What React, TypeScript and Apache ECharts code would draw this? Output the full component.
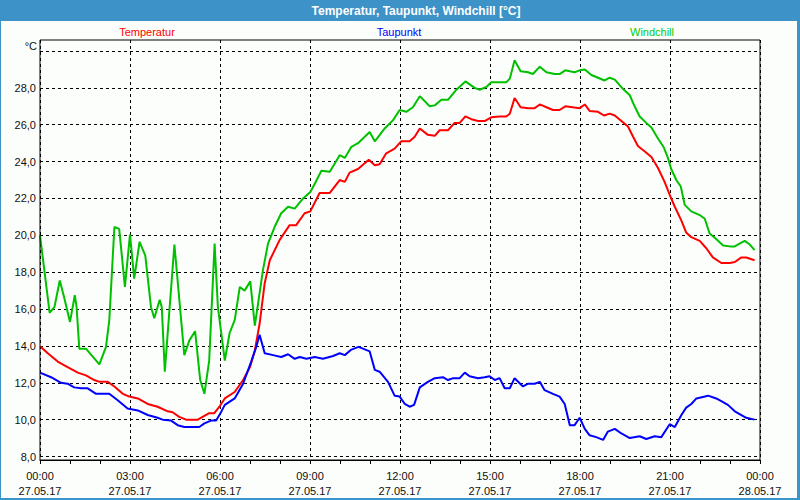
import React, { useEffect, useRef } from "react";
import * as echarts from "echarts";

const timeLabels = ["00:00", "03:00", "06:00", "09:00", "12:00", "15:00", "18:00", "21:00", "00:00"];
const dateLabels = ["27.05.17", "27.05.17", "27.05.17", "27.05.17", "27.05.17", "27.05.17", "27.05.17", "27.05.17", "28.05.17"];

const tempHours = [0, 0.26, 0.59, 0.92, 1.26, 1.53, 1.81, 1.98, 2.26, 2.48, 2.76, 2.98, 3.26, 3.59, 3.92, 4.26, 4.42, 4.64, 4.87, 5.26, 5.42, 5.64, 5.81, 6.0, 6.16, 6.49, 6.77, 7.0, 7.16, 7.32, 7.49, 7.66, 7.99, 8.32, 8.54, 8.82, 9.01, 9.32, 9.66, 9.99, 10.16, 10.32, 10.6, 10.96, 11.16, 11.32, 11.54, 11.82, 12.04, 12.32, 12.49, 12.66, 12.93, 13.16, 13.32, 13.6, 13.82, 13.99, 14.18, 14.38, 14.6, 14.82, 15.04, 15.32, 15.54, 15.66, 15.82, 16.02, 16.27, 16.49, 16.66, 16.88, 17.1, 17.32, 17.51, 17.99, 18.16, 18.32, 18.6, 18.8, 18.99, 19.16, 19.38, 19.6, 19.77, 19.93, 20.16, 20.38, 20.6, 20.82, 20.99, 21.16, 21.38, 21.54, 21.71, 21.99, 22.21, 22.43, 22.71, 22.99, 23.16, 23.38, 23.54, 23.82];
const tempValues = [13.98, 13.6, 13.15, 12.85, 12.55, 12.4, 12.15, 12.05, 12.05, 11.8, 11.4, 11.25, 11.15, 10.85, 10.7, 10.45, 10.4, 10.15, 10.0, 10.0, 10.15, 10.35, 10.35, 10.75, 11.15, 11.5, 12.15, 12.85, 13.75, 15.2, 17.4, 18.65, 19.75, 20.55, 20.55, 21.2, 21.3, 22.3, 22.3, 23.0, 22.9, 23.4, 23.6, 24.1, 23.8, 23.85, 24.45, 24.7, 25.1, 25.1, 25.35, 25.8, 25.45, 25.4, 25.7, 25.7, 26.1, 26.1, 26.45, 26.3, 26.2, 26.2, 26.4, 26.45, 26.45, 26.6, 27.45, 26.95, 26.9, 26.9, 27.1, 26.95, 26.8, 26.8, 27.0, 26.9, 27.1, 26.75, 26.7, 26.5, 26.6, 26.5, 26.2, 25.9, 25.35, 24.85, 24.55, 24.25, 23.65, 22.9, 22.2, 21.55, 20.8, 20.15, 19.9, 19.7, 19.3, 18.8, 18.5, 18.5, 18.55, 18.8, 18.8, 18.65];

const dewHours = [0, 0.37, 0.7, 0.92, 1.14, 1.37, 1.59, 1.87, 2.31, 2.59, 2.92, 3.26, 3.59, 3.92, 4.09, 4.37, 4.59, 4.81, 5.31, 5.48, 5.7, 5.87, 6.0, 6.16, 6.49, 6.77, 7.04, 7.21, 7.32, 7.49, 7.77, 8.04, 8.27, 8.49, 8.66, 8.88, 9.16, 9.43, 9.77, 9.99, 10.16, 10.38, 10.62, 10.99, 11.16, 11.32, 11.6, 11.82, 11.99, 12.16, 12.32, 12.47, 12.66, 12.93, 13.16, 13.43, 13.6, 13.77, 13.99, 14.16, 14.32, 14.6, 14.82, 14.99, 15.16, 15.32, 15.49, 15.66, 15.82, 16.1, 16.27, 16.49, 16.66, 16.82, 17.1, 17.32, 17.49, 17.66, 17.82, 17.99, 18.16, 18.32, 18.54, 18.77, 18.93, 19.16, 19.38, 19.66, 19.99, 20.21, 20.49, 20.71, 20.99, 21.16, 21.38, 21.54, 21.71, 21.88, 22.27, 22.54, 22.71, 22.93, 23.16, 23.38, 23.54, 23.82];
const dewValues = [12.55, 12.3, 12.0, 11.95, 11.75, 11.7, 11.7, 11.4, 11.4, 11.05, 10.6, 10.5, 10.25, 10.1, 10.0, 9.95, 9.7, 9.6, 9.6, 9.8, 9.95, 9.95, 10.3, 10.8, 11.15, 11.95, 13.15, 13.95, 14.6, 13.6, 13.5, 13.4, 13.55, 13.3, 13.4, 13.3, 13.4, 13.3, 13.45, 13.6, 13.5, 13.8, 13.95, 13.7, 12.7, 12.6, 12.05, 11.3, 11.25, 10.85, 10.7, 10.8, 11.75, 12.05, 12.25, 12.3, 12.15, 12.25, 12.25, 12.55, 12.35, 12.25, 12.3, 12.35, 12.15, 12.25, 11.7, 11.7, 12.25, 11.8, 11.95, 11.95, 12.05, 11.6, 11.4, 11.25, 10.85, 9.7, 9.7, 10.1, 9.5, 9.15, 9.05, 8.9, 9.35, 9.5, 9.25, 9.0, 9.1, 8.95, 9.1, 9.05, 9.75, 9.6, 10.25, 10.65, 10.85, 11.15, 11.3, 11.15, 11.0, 10.8, 10.45, 10.25, 10.1, 10.0];

const chillHours = [0, 0.32, 0.48, 0.66, 0.81, 1.0, 1.16, 1.22, 1.31, 1.53, 1.98, 2.2, 2.31, 2.48, 2.64, 2.83, 3.0, 3.14, 3.32, 3.51, 3.7, 3.81, 3.99, 4.06, 4.16, 4.48, 4.81, 4.98, 5.17, 5.34, 5.48, 5.64, 5.82, 5.93, 6.16, 6.32, 6.49, 6.66, 6.82, 7.01, 7.16, 7.27, 7.43, 7.6, 7.82, 8.04, 8.27, 8.49, 8.77, 9.01, 9.16, 9.38, 9.66, 9.99, 10.16, 10.38, 10.6, 10.99, 11.16, 11.49, 11.77, 11.99, 12.21, 12.43, 12.66, 12.99, 13.16, 13.38, 13.6, 13.88, 14.18, 14.49, 14.66, 14.88, 15.04, 15.54, 15.66, 15.82, 16.02, 16.27, 16.43, 16.66, 16.88, 17.16, 17.32, 17.51, 17.66, 17.82, 17.99, 18.16, 18.38, 18.6, 18.82, 18.99, 19.16, 19.43, 19.66, 19.82, 19.99, 20.21, 20.38, 20.6, 20.8, 20.93, 21.04, 21.21, 21.36, 21.49, 21.71, 21.99, 22.16, 22.32, 22.54, 22.77, 22.99, 23.16, 23.32, 23.49, 23.66, 23.82];
const chillValues = [20.0, 15.8, 16.1, 17.55, 16.6, 15.3, 16.75, 16.1, 13.85, 13.85, 13.0, 13.95, 15.4, 20.45, 20.35, 17.2, 20.05, 17.65, 19.65, 18.9, 16.1, 15.5, 16.5, 16.1, 12.6, 19.5, 13.5, 14.3, 14.8, 12.15, 11.4, 13.2, 19.55, 16.1, 13.2, 14.7, 15.4, 17.2, 17.0, 17.5, 15.1, 16.3, 18.1, 19.55, 20.45, 21.2, 21.55, 21.45, 22.0, 22.35, 22.8, 23.5, 23.45, 24.35, 24.2, 24.8, 25.0, 25.6, 25.1, 25.8, 26.25, 26.8, 26.7, 26.95, 27.55, 27.0, 27.05, 27.35, 27.35, 27.9, 28.35, 28.0, 27.9, 28.05, 28.3, 28.3, 28.5, 29.5, 28.9, 28.85, 28.75, 29.15, 28.85, 28.75, 28.75, 28.95, 28.9, 28.85, 28.95, 29.0, 28.7, 28.55, 28.4, 28.55, 28.45, 27.95, 27.6, 27.0, 26.45, 26.1, 25.85, 25.25, 24.75, 24.2, 23.6, 23.0, 22.65, 21.65, 21.3, 21.1, 20.9, 20.1, 19.8, 19.45, 19.4, 19.4, 19.55, 19.7, 19.5, 19.2];

const zip = (xs: number[], ys: number[]) => xs.map((x, i) => [x, ys[i]]);

const FONT = "Liberation Sans";
const FRAME_BLUE = "#3d92c7";

export default function App() {
  const ref = useRef<HTMLDivElement>(null);
  useEffect(() => {
    if (!ref.current) return;
    const chart = echarts.init(ref.current, undefined, { renderer: "svg" });
    const dashed = { color: "#000", width: 1, type: [3, 3] as any };
    chart.setOption({
      animation: false,
      backgroundColor: "#fcfefc",
      textStyle: { fontFamily: FONT },
      grid: [
        { left: 40, right: 40, top: 40, bottom: 40 },
        { left: 40, right: 40, top: 51, bottom: 43.5 },
      ],
      xAxis: [
        {
          type: "value", gridIndex: 0, min: 0, max: 24, interval: 3,
          axisLine: { show: true, lineStyle: { color: "#000", width: 1 } },
          axisTick: { show: true, length: 4, lineStyle: { color: "#000" } },
          minorTick: { show: true, splitNumber: 3, length: 4, lineStyle: { color: "#000" } },
          splitLine: { show: true, lineStyle: dashed },
          axisLabel: {
            margin: 8, color: "#101010", fontSize: 11, fontFamily: FONT, lineHeight: 15,
            formatter: (v: number) => {
              const i = Math.round(v / 3);
              return timeLabels[i] + "\n" + dateLabels[i];
            },
          },
        },
        { type: "value", gridIndex: 1, min: 0, max: 24, show: false },
      ],
      yAxis: [
        { type: "value", gridIndex: 0, min: 0, max: 1, show: false },
        {
          type: "value", gridIndex: 1, min: 8, max: 30, interval: 2,
          axisLine: { show: false }, axisTick: { show: false },
          splitLine: { show: true, lineStyle: dashed },
          axisLabel: {
            margin: 4, color: "#101010", fontSize: 11, fontFamily: FONT,
            formatter: (v: number) => (v >= 30 ? "" : v.toFixed(1).replace(".", ",")),
          },
        },
      ],
      series: [
        { name: "Temperatur", type: "line", xAxisIndex: 1, yAxisIndex: 1, data: zip(tempHours, tempValues), showSymbol: false, lineStyle: { color: "#ff0000", width: 2 }, itemStyle: { color: "#ff0000" }, z: 3 },
        { name: "Taupunkt", type: "line", xAxisIndex: 1, yAxisIndex: 1, data: zip(dewHours, dewValues), showSymbol: false, lineStyle: { color: "#0000ff", width: 2 }, itemStyle: { color: "#0000ff" }, z: 3 },
        { name: "Windchill", type: "line", xAxisIndex: 1, yAxisIndex: 1, data: zip(chillHours, chillValues), showSymbol: false, lineStyle: { color: "#00c000", width: 2 }, itemStyle: { color: "#00c000" }, z: 3 },
      ],
      graphic: [
        { type: "rect", shape: { x: 0, y: 0, width: 800, height: 21 }, style: { fill: FRAME_BLUE }, z: 10 },
        { type: "rect", shape: { x: 0, y: 0, width: 1, height: 500 }, style: { fill: FRAME_BLUE }, z: 10 },
        { type: "rect", shape: { x: 797, y: 0, width: 3, height: 500 }, style: { fill: FRAME_BLUE }, z: 10 },
        { type: "rect", shape: { x: 0, y: 498, width: 800, height: 2 }, style: { fill: FRAME_BLUE }, z: 10 },
        { type: "text", x: 416, y: 11, z: 11, style: { text: "Temperatur, Taupunkt, Windchill [°C]", fill: "#ffffff", font: `bold 12px "${FONT}"`, align: "center", verticalAlign: "middle" } },
        { type: "text", x: 147, y: 32, z: 11, style: { text: "Temperatur", fill: "#ff0000", font: `11px "${FONT}"`, align: "center", verticalAlign: "middle" } },
        { type: "text", x: 399, y: 32, z: 11, style: { text: "Taupunkt", fill: "#0000ff", font: `11px "${FONT}"`, align: "center", verticalAlign: "middle" } },
        { type: "text", x: 652, y: 32, z: 11, style: { text: "Windchill", fill: "#00cc00", font: `11px "${FONT}"`, align: "center", verticalAlign: "middle" } },
        { type: "text", x: 37, y: 46, z: 11, style: { text: "°C", fill: "#101010", font: `11px "${FONT}"`, align: "right", verticalAlign: "middle" } },
        { type: "rect", shape: { x: 40, y: 40, width: 720, height: 420 }, style: { fill: "none", stroke: "#000", lineWidth: 1 }, z: 11 },
      ],
    });
    return () => chart.dispose();
  }, []);
  return (
    <div
      ref={ref}
      style={{ position: "fixed", left: 0, top: 0, width: 800, height: 500 }}
    />
  );
}
